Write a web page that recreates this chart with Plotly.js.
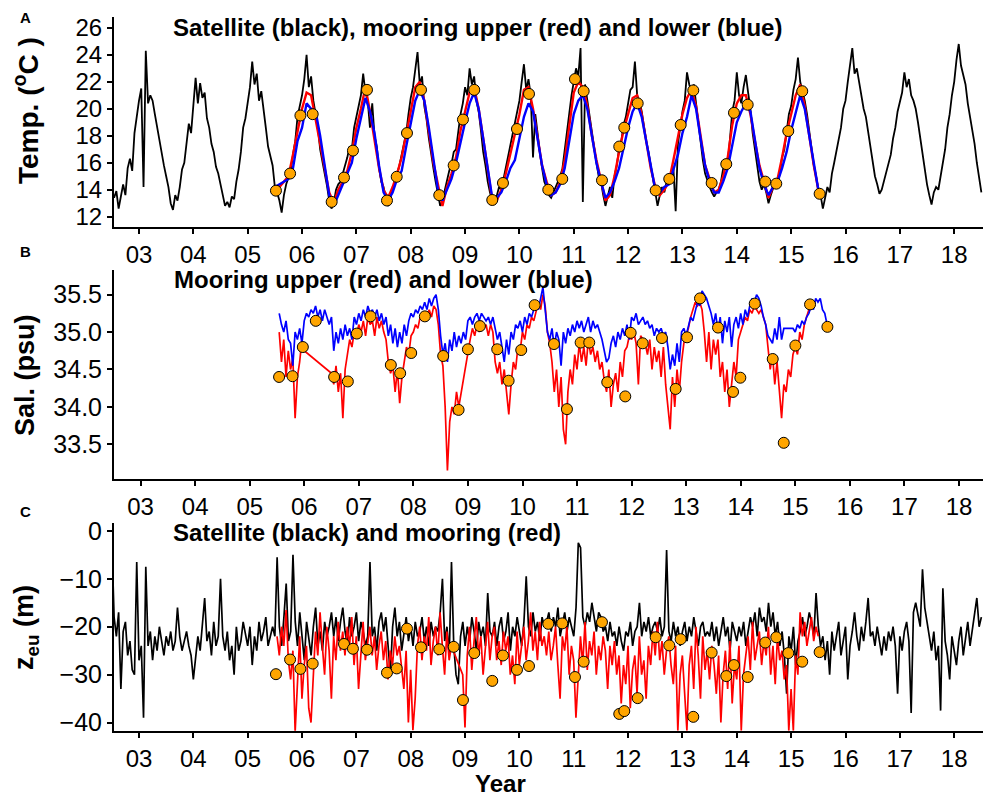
<!DOCTYPE html>
<html>
<head>
<meta charset="utf-8">
<script src="https://cdn.plot.ly/plotly-3.0.1.min.js"></script>
<style>html,body{margin:0;padding:0;background:#fff;}#chart{width:983px;height:798px;}</style>
</head>
<body>
<div id="chart"></div>
<script>
// ---------- tick labels ----------
const tickYears = [2003,2004,2005,2006,2007,2008,2009,2010,2011,2012,2013,2014,2015,2016,2017,2018];
const tickLabels = ['03','04','05','06','07','08','09','10','11','12','13','14','15','16','17','18'];

// ---------- Panel A: temperature ----------
const satTempStart = 2002.5, satTempStep = 1/24;
const satTemp = [
14.0,13.4,13.9,12.6,13.5,14.4,13.6,15.6,16.3,15.4,18.2,19.6,20.6,21.5,14.2,24.3,20.4,21.0,20.6,19.6,18.6,17.6,16.8,15.8,
15.0,14.2,13.0,12.5,13.6,13.2,14.2,15.5,16.0,17.4,18.9,18.2,20.6,22.3,20.4,21.9,20.8,21.2,19.3,18.6,17.4,16.8,15.7,15.2,
14.4,13.6,12.8,13.1,12.7,13.5,13.3,14.6,15.5,16.8,18.6,19.3,20.4,21.6,23.5,21.8,22.6,20.6,21.3,19.7,18.6,17.2,16.6,15.8,
14.2,13.8,13.2,12.3,13.6,14.4,14.9,15.4,16.6,17.6,19.4,20.2,21.0,22.2,24.0,21.6,22.4,20.6,19.4,18.6,17.0,16.2,15.2,14.3,
13.2,12.6,13.0,14.0,14.4,14.6,15.2,15.6,16.4,17.2,17.0,18.6,19.4,20.4,21.0,22.6,21.2,20.6,18.6,20.4,18.0,17.2,15.6,14.6,
14.2,13.3,12.8,13.4,14.0,14.6,15.2,15.8,16.6,17.4,18.2,19.6,20.8,21.6,23.0,24.2,21.8,22.4,20.2,19.2,17.8,16.6,15.6,14.6,
13.8,12.8,13.2,14.0,14.6,15.4,15.9,16.8,17.0,18.4,19.6,20.4,21.6,21.0,23.0,21.8,22.4,20.6,19.8,18.4,16.8,15.8,14.6,13.8,
13.2,12.9,13.6,14.2,14.0,14.8,15.6,16.4,17.2,18.0,18.8,19.6,20.6,22.0,23.3,21.4,22.2,21.0,16.4,19.6,18.0,16.8,15.6,14.6,
14.2,13.6,13.4,13.8,14.2,14.6,15.0,15.6,17.0,18.4,19.8,21.0,22.0,23.0,22.4,24.5,13.1,21.8,20.6,19.4,18.2,17.2,16.0,15.0,
14.6,13.6,12.8,13.5,14.2,13.4,15.0,15.8,17.0,17.6,18.8,19.4,20.6,21.4,21.6,23.5,21.0,20.6,19.8,18.6,17.6,16.8,15.8,14.8,
14.0,12.8,13.6,14.2,13.8,14.6,14.8,15.2,15.6,12.4,17.4,18.6,19.8,20.6,22.7,21.8,21.2,21.8,20.4,19.0,17.4,16.2,15.2,14.6,
14.2,13.8,13.5,13.8,14.0,14.6,15.6,16.2,16.0,17.8,19.8,20.6,22.7,21.0,20.4,21.6,22.5,21.2,20.0,18.2,17.0,15.8,14.6,14.0,
14.4,13.8,13.0,13.6,14.2,14.6,14.2,15.4,16.4,17.0,18.4,19.6,20.2,21.4,22.2,23.8,22.0,21.4,20.6,19.6,18.4,17.0,15.8,15.0,
14.0,13.6,12.6,13.4,14.2,13.8,15.2,16.0,16.8,17.8,18.6,20.0,20.6,22.0,23.2,24.5,22.6,23.0,22.0,21.0,20.0,19.4,18.2,17.0,
16.0,15.0,14.4,13.7,14.0,14.6,15.4,15.8,16.6,17.8,18.6,19.8,20.6,21.2,22.7,21.6,22.2,21.0,20.6,20.0,19.0,17.8,16.6,15.4,
14.4,13.6,12.9,13.8,14.2,14.0,15.0,15.8,17.0,18.6,19.6,21.0,22.0,23.6,24.8,23.2,22.6,21.8,20.4,19.4,18.4,17.4,16.0,15.0,
13.8];

const moorTempStart = 2005.5, moorTempStep = 1/12;
const upperTemp = [
14.0,14.2,14.6,15.0,16.6,18.4,20.0,21.2,21.0,19.2,17.4,15.6,
13.8,13.0,14.0,14.6,15.4,16.8,18.6,20.0,21.6,19.8,17.6,15.6,
14.0,13.4,14.2,15.2,16.4,18.0,19.8,21.6,22.0,20.6,18.4,16.0,
14.4,12.8,14.2,15.2,16.4,18.4,19.8,21.2,21.6,20.0,17.8,15.6,
13.2,13.2,14.0,15.2,16.6,18.0,19.6,21.4,21.6,20.0,17.8,15.8,
14.6,13.6,13.8,14.6,16.2,18.6,21.2,22.0,21.6,20.2,18.0,16.2,
14.8,13.2,13.6,15.0,16.8,18.4,19.6,20.8,21.0,19.6,17.6,15.6,
14.2,13.6,14.0,14.6,16.2,17.8,19.6,20.8,21.4,20.2,17.8,15.8,
14.8,13.8,14.0,15.0,16.4,18.8,20.4,21.0,21.0,19.6,17.6,15.8,
14.6,13.4,14.2,14.8,16.4,18.2,19.6,21.0,21.8,20.2,18.0,15.8,
14.0,13.4];
const lowerTemp = [
14.2,14.4,14.6,14.8,15.6,17.6,18.6,20.4,20.0,19.8,18.0,15.8,
13.6,12.8,13.6,14.4,15.2,16.0,17.8,19.4,20.8,19.8,18.2,15.8,
13.8,13.2,13.8,14.8,15.4,17.2,19.0,20.6,21.4,20.6,18.6,16.2,
14.0,13.2,14.0,14.8,16.0,17.6,19.0,20.4,21.2,20.0,17.8,15.4,
13.4,13.4,13.8,14.6,15.6,16.2,17.8,19.4,20.4,19.8,17.8,15.8,
14.4,13.6,13.8,14.4,15.6,17.6,19.6,20.6,21.0,20.0,18.0,16.0,
14.6,13.4,13.8,14.6,15.6,17.2,18.6,19.8,20.4,19.4,17.6,15.6,
14.0,13.8,14.2,14.4,15.6,16.6,18.2,19.4,21.0,20.0,17.8,15.8,
14.6,13.8,13.8,14.6,15.6,17.2,19.0,19.8,20.4,19.8,17.6,15.6,
14.4,13.6,14.2,14.6,15.6,16.8,18.4,19.8,21.0,20.0,18.0,15.8,
14.0,13.6];

const cruiseTempYear = [2005.52,2005.78,2005.97,2006.196,2006.545,2006.772,2006.937,2007.195,2007.563,2007.742,2007.931,2008.189,2008.525,2008.79,2008.961,2009.169,2009.5,2009.697,2009.955,2010.176,2010.531,2010.788,2011.022,2011.182,2011.519,2011.837,2011.929,2012.176,2012.507,2012.757,2012.967,2013.199,2013.537,2013.806,2013.948,2014.2,2014.524,2014.726,2014.947,2015.204,2015.524];
const cruiseTemp = [13.93,15.2,19.5,19.6,13.1,14.9,16.9,21.4,13.2,14.96,18.2,21.4,13.6,15.8,19.2,21.4,13.24,14.5,18.5,21.1,14.0,14.8,22.2,21.3,14.7,17.2,18.6,20.4,13.95,14.8,18.8,21.36,14.5,15.9,19.7,20.3,14.6,14.45,18.35,21.3,13.7];

// ---------- Panel B: salinity ----------
const salStart = 2005.54, salStep = 1/24;
const upperSal = [
35.0,34.6,34.9,34.4,34.75,34.5,34.65,33.85,34.4,34.6,34.9,34.75,null,null,null,null,null,null,null,null,null,null,null,34.45,
34.3,34.55,34.2,34.45,33.85,34.5,34.7,34.9,34.8,35.0,34.95,35.1,35.0,35.15,34.95,35.2,35.1,35.15,34.95,35.2,35.05,35.15,35.0,34.9,
34.6,34.45,34.55,34.2,34.5,34.05,34.4,34.6,34.8,34.7,34.95,35.0,35.1,35.05,35.2,35.15,35.25,35.2,35.3,35.2,35.35,35.3,35.1,34.7,
34.55,34.0,33.15,33.8,34.0,33.9,34.2,34.0,null,null,null,34.75,34.9,35.05,34.95,35.1,35.0,35.15,35.05,35.1,34.95,35.1,35.0,34.6,
34.45,34.6,34.3,34.5,34.2,33.9,34.3,34.6,34.5,34.8,34.75,35.0,34.9,35.1,35.05,35.2,35.15,35.3,35.4,35.3,35.5,35.35,35.0,34.85,
34.6,34.2,34.5,34.0,34.4,33.7,33.5,34.2,34.5,34.3,34.7,34.5,34.85,34.6,34.8,34.55,34.9,34.7,34.8,34.6,34.75,34.5,34.6,34.35,
34.2,34.5,34.0,34.3,34.45,34.2,34.6,34.4,34.75,34.8,34.95,34.9,35.0,34.85,34.3,34.95,34.9,34.85,34.7,34.9,34.5,34.8,34.6,34.75,
34.4,34.8,34.3,34.0,33.7,34.4,34.0,34.5,34.2,34.6,34.85,34.95,35.05,35.2,35.3,35.4,35.35,35.4,35.3,35.0,34.6,35.0,34.5,34.9,
34.7,34.9,34.4,34.6,34.2,34.5,34.0,34.3,34.6,34.4,34.9,35.0,35.1,35.2,35.15,35.3,35.25,35.35,35.3,35.25,35.3,35.2,35.1,34.8,
34.5,34.7,34.3,34.6,34.2,33.85,34.3,34.2,34.5,34.4,34.7,34.8,34.7,35.0,34.9,35.1,35.2,35.3];
const lowerSal = [
35.25,35.1,35.0,35.15,34.9,34.85,34.55,35.0,34.9,35.05,34.85,35.15,35.25,35.2,35.3,35.25,35.35,35.2,35.3,35.15,35.3,35.2,35.1,35.2,
34.75,35.0,34.85,35.05,34.9,35.1,34.95,35.05,34.9,35.2,35.1,35.25,35.15,35.3,35.2,35.35,35.25,35.3,35.2,35.3,35.15,35.25,35.1,35.2,
34.95,35.1,34.85,35.05,34.8,35.0,34.85,35.1,34.95,35.15,35.25,35.2,35.3,35.25,35.35,35.3,35.4,35.3,35.45,35.35,35.45,35.5,35.3,34.95,
34.7,34.85,34.6,34.9,34.75,35.0,34.8,34.95,34.85,35.0,34.9,35.15,35.2,35.1,35.2,35.25,35.15,35.25,35.2,35.15,35.2,35.1,35.2,35.05,
34.9,35.0,34.8,34.6,34.9,34.7,35.0,34.9,35.1,35.05,35.15,35.0,35.2,35.1,35.25,35.2,35.3,35.35,35.3,35.45,35.6,35.3,35.0,34.9,
35.05,34.8,35.0,34.9,34.55,35.0,34.85,35.05,34.95,35.1,35.0,35.15,35.05,35.15,35.0,35.1,35.2,35.0,35.15,35.05,35.1,35.0,34.9,34.75,
34.6,34.65,34.85,34.95,34.8,35.0,34.9,35.05,34.95,35.1,34.9,35.2,35.15,35.25,35.1,35.15,35.2,35.1,35.15,35.05,35.1,34.95,35.05,35.0,
35.05,34.95,35.0,34.8,34.5,34.7,34.55,34.85,34.6,35.0,35.05,34.95,35.1,35.2,35.15,35.3,35.4,35.35,35.55,35.5,35.45,35.35,35.25,35.1,
35.25,35.0,35.2,34.85,35.15,35.0,35.2,34.8,35.1,35.2,35.05,35.25,35.1,35.3,35.2,35.35,35.45,35.4,35.5,35.45,35.35,35.2,35.1,34.95,
34.9,34.85,35.05,34.9,35.2,34.9,35.05,null,null,null,35.05,35.0,35.1,35.05,35.15,35.1,35.2,35.25,35.35,35.3,35.45,35.4,35.45,35.3,
35.25,35.1];

const cruiseSalYear = [2005.538,2005.784,2005.973,2006.211,2006.547,2006.798,2006.963,2007.214,2007.586,2007.757,2007.959,2008.21,2008.546,2008.828,2008.999,2009.219,2009.536,2009.745,2009.976,2010.222,2010.576,2010.814,2011.065,2011.223,2011.553,2011.883,2011.982,2012.202,2012.556,2012.807,2013.015,2013.253,2013.583,2013.858,2013.992,2014.256,2014.586,2014.788,2015.001,2015.27,2015.588];
const cruiseSal = [34.40,34.41,34.80,35.15,34.40,34.34,34.98,35.21,34.56,34.45,34.72,35.21,34.68,33.96,34.77,35.08,34.77,34.35,34.76,35.36,34.84,33.97,34.86,34.86,34.33,34.14,34.99,34.85,34.92,34.24,34.93,35.45,35.06,34.20,34.39,35.38,34.64,33.52,34.82,35.37,35.07];

// ---------- Panel C: euphotic depth ----------
const satZeuStart = 2002.5, satZeuStep = 1/24;
const satZeu = [
-2,-18,-22,-17,-33,-21,-19,-26,-23,-29,-30,-6.5,-27,-24,-39,-7.5,-24,-21,-27,-22,-25,-20,-23,-26,
-22,-24,-21,-25,-23,-16,-22,-25,-23,-21,-24,-26,-31,-27,-22,-25,-20,-14,-23,-21,-26,-19,-24,-22,
-10,-22,-25,-21,-27,-24,-30,-20,-25,-23,-19,-22,-24,-20,-28,-22,-25,-19,-23,-21,-18,-24,-22,-20,
-22,-5.5,-20,-24,-18,-11,-23,-21,-5,-19,-24,-17,-22,-27,-19,-23,-26,-20,-16,-24,-21,-25,-19,-22,
-20,-17,-22,-18,-23,-19,-16,-21,-24,-18,-22,-20,-17,-23,-19,-21,-24,-22,-6.5,-22,-20,-25,-19,-17,
-21,-18,-24,-30,-20,-16,-22,-19,-25,-21,-18,-23,-20,-24,-19,-22,-21,-18,-23,-20,-24,-19,-22,-20,
-21,-17,-10,-23,-20,-26,-6.5,-24,-30,-32,-22,-19,-24,-20,-23,-18,-21,-25,-19,-22,-20,-24,-13,-21,
-22,-19,-24,-20,-18,-23,-21,-17,-25,-20,-22,-18,-21,-24,-19,-9.5,-20,-22,-17,-21,-19,-23,-18,-20,
-19,-17,-21,-18,-20,-16,-22,-19,-17,-21,-18,-20,-22,-16,-2.5,-3.5,-18,-20,-17,-19,-15,-18,-21,-17,
-18,-21,-20,-23,-19,-22,-21,-24,-20,-23,-25,-21,-22,-19,-24,-21,-20,-15,-22,-19,-21,-18,-22,-20,
-19,-21,-18,-22,-20,-4,-21,-23,-19,-22,-20,-24,-21,-19,-23,-20,-22,-18,-21,-24,-20,-19,-22,-21,
-22,-19,-23,-20,-24,-21,-18,-22,-20,-25,-19,-21,-23,-20,-22,-19,-24,-21,-18,-20,-17,-22,-16,-19,
-18,-21,-15,-20,-17,-22,-19,-24,-21,-26,-34,-22,-25,-20,-28,-23,-21,-18,-22,-20,-17,-19,-22,-13,
-20,-24,-22,-27,-23,-30,-21,-25,-22,-19,-26,-23,-20,-31,-24,-21,-17,-22,-25,-20,-23,-19,-14,-22,
-21,-24,-20,-23,-26,-22,-25,-21,-23,-20,-24,-34,-22,-25,-21,-19,-23,-38,-17,-15,-18,-20,-8,-16,
-19,-22,-25,-21,-27,-24,-37.5,-12,-23,-26,-31,-22,-25,-28,-23,-20,-26,-22,-19,-24,-21,-17,-14,-20,
-18];

const moorZeuStart = 2005.54, moorZeuStep = 1/24;
const moorZeu = [
-22,-26,-20,-24,-16.5,-27,-31,-25,-42,-33,-22,-35,-28,-24,-37,-40,-29,-21,-26,-17,-24,-30,-20,-25,
-35,-22,-27,-19,-25,-21,-26,-20,-24,-18,-28,-22,-33,-25,-19,-27,-23,-20,-26,-22,-29,-24,-21,-27,
-23,-31,-25,-28,-22,-26,-24,-28,-33,-25,-40,-29,-41.6,-35,-24,-20,-27,-22,-25,-18,-28,-23,-20,-26,
-17,-24,-30,-21,-27,-24,null,null,null,null,-30,-41,-26,-20,-29,-23,-18,-26,-22,-30,-24,-19,-27,-22,
-20,-27,-23,-28,-21,-25,-22,-30,-26,-32,-21,-28,-24,-20,-27,-23,-17,-25,-21,-27,-19,-24,-22,-26,
-21,-27,-24,-20,-28,-35,-22,-25,-20,-30,-24,-27,-39,-30,-22,-28,-19,-29,-23,-26,-21,-30,-24,-27,
-22,-25,-33,-24,-28,-23,-30,-26,-36,-28,-32,-24,-37,-29,-26,-34,-22,-30,-27,-35,-24,-28,-21,-26,
-19,-27,-23,-30,-25,-22,-28,-32,-24,-41.7,-30,-26,-35,-41.7,-28,-24,-33,-20,-26,-35,-22,-29,-25,-31,
-24,-28,-34,-26,-40,-30,-25,-33,-23,-36,-28,-31,-24,-41.7,-30,-26,-22,-29,-19,-27,-24,-21,-28,-23,
-26,-20,-30,-24,-32,-22,-27,-25,-31,-28,-41.7,-33,-41.7,-26,-30,-17,-22,-19,-24,-21,-18,-23,-20,-22];

const cruiseZeuYear = [2005.52,2005.78,2005.97,2006.196,2006.772,2006.937,2007.195,2007.563,2007.742,2007.931,2008.189,2008.525,2008.79,2008.961,2009.169,2009.5,2009.697,2009.955,2010.176,2010.531,2010.788,2011.022,2011.182,2011.519,2011.837,2011.929,2012.176,2012.507,2012.757,2012.967,2013.199,2013.537,2013.806,2013.948,2014.2,2014.524,2014.726,2014.947,2015.204,2015.524];
const cruiseZeu = [-29.9,-26.85,-28.8,-27.7,-23.6,-24.6,-24.8,-29.6,-28.7,-20.4,-24.3,-24.7,-24.2,-35.3,-25.5,-31.3,-26.0,-29.0,-28.2,-19.4,-19.3,-30.5,-27.3,-19.05,-38.2,-37.6,-34.9,-22.2,-23.9,-22.6,-38.8,-25.4,-30.3,-28.0,-30.5,-23.3,-22.2,-25.5,-27.3,-25.3];

// ---------- build ----------
const times = (t0, step, n) => Array.from({length: n}, (_, i) => t0 + i * step);
const FONT = 'Arial, "Liberation Sans", Helvetica, sans-serif';

function lineTrace(t0, step, ys, color, width, xa, ya) {
  return {x: times(t0, step, ys.length), y: ys, type: 'scatter', mode: 'lines',
          line: {color: color, width: width}, connectgaps: true, xaxis: xa, yaxis: ya, hoverinfo: 'skip'};
}
function dotTrace(xs, ys, xa, ya) {
  return {x: xs, y: ys, type: 'scatter', mode: 'markers',
          marker: {color: '#FFA500', size: 11, line: {color: '#000', width: 1}},
          xaxis: xa, yaxis: ya, hoverinfo: 'skip', cliponaxis: false};
}

const data = [
  lineTrace(satTempStart, satTempStep, satTemp, '#000000', 1.8, 'x', 'y'),
  lineTrace(moorTempStart, moorTempStep, upperTemp, '#FF0000', 2.4, 'x', 'y'),
  lineTrace(moorTempStart, moorTempStep, lowerTemp, '#0000FF', 2.4, 'x', 'y'),
  dotTrace(cruiseTempYear, cruiseTemp, 'x', 'y'),
  lineTrace(salStart, salStep, upperSal, '#FF0000', 1.7, 'x2', 'y2'),
  lineTrace(salStart, salStep, lowerSal, '#0000FF', 1.7, 'x2', 'y2'),
  dotTrace(cruiseSalYear, cruiseSal, 'x2', 'y2'),
  lineTrace(satZeuStart, satZeuStep, satZeu, '#000000', 1.7, 'x3', 'y3'),
  lineTrace(moorZeuStart, moorZeuStep, moorZeu, '#FF0000', 1.7, 'x3', 'y3'),
  dotTrace(cruiseZeuYear, cruiseZeu, 'x3', 'y3')
];

const axisBase = {showline: true, linecolor: '#000', linewidth: 2, ticks: 'outside', ticklen: 5,
  tickwidth: 2, tickcolor: '#000', showgrid: false, zeroline: false, fixedrange: true};
function xAxis(anchor, range) {
  return Object.assign({}, axisBase, {anchor: anchor, domain: [0, 1], range: range,
    tickmode: 'array', tickvals: tickYears, ticktext: tickLabels,
    tickfont: {family: FONT, size: 24, color: '#000'}});
}
function yAxis(anchor, domain, range, vals, size, fmt) {
  const a = Object.assign({}, axisBase, {anchor: anchor, domain: domain, range: range,
    tickmode: 'array', tickvals: vals, tickfont: {family: FONT, size: size, color: '#000'}});
  if (fmt) a.tickformat = fmt;
  return a;
}

// pixel helpers for annotation placement (plot area: x 114..983 of 983 px; paper height 798)
const px = v => (v - 114) / 869;
const py = v => (798 - v) / 798;

function ann(text, x, y, size, opts) {
  return Object.assign({text: text, x: px(x), y: py(y), xref: 'paper', yref: 'paper',
    showarrow: false, font: {family: FONT, size: size, color: '#000'},
    xanchor: 'center', yanchor: 'middle'}, opts || {});
}

const layout = {
  width: 983, height: 798,
  margin: {l: 114, r: 0, t: 0, b: 0},
  paper_bgcolor: '#fff', plot_bgcolor: '#fff',
  showlegend: false, hovermode: false,
  xaxis: xAxis('y', [2002.54, 2018.53]),
  xaxis2: xAxis('y2', [2002.512, 2018.44]),
  xaxis3: xAxis('y3', [2002.54, 2018.53]),
  yaxis: yAxis('x', [0.7159, 0.9787], [11.26, 26.8], [12,14,16,18,20,22,24,26], 24),
  yaxis2: yAxis('x2', [0.4001, 0.6617], [33.04, 35.83], [33.5,34,34.5,35,35.5], 25, '.1f'),
  yaxis3: yAxis('x3', [0.0843, 0.345], [-41.7, 1.7], [0,-10,-20,-30,-40], 25),
  annotations: [
    ann('<b>A</b>', 25, 17.5, 15),
    ann('<b>B</b>', 25, 251, 15),
    ann('<b>C</b>', 25, 511, 15),
    ann('<b>Satellite (black), mooring upper (red) and lower (blue)</b>', 171, 27, 24, {xanchor: 'left'}),
    ann('<b>Mooring upper (red) and lower (blue)</b>', 172, 279, 24, {xanchor: 'left'}),
    ann('<b>Satellite (black) and mooring (red)</b>', 171, 532, 24, {xanchor: 'left'}),
    ann('<b>Temp. (<sup>o</sup>C )</b>', 26, 111, 28, {textangle: -90}),
    ann('<b>Sal. (psu)</b>', 25, 375, 27, {textangle: -90}),
    ann('<b>z<sub>eu</sub> (m)</b>', 26, 628, 27, {textangle: -90}),
    ann('<b>Year</b>', 500, 798, 24, {yanchor: 'bottom', borderpad: 0})
  ]
};

Plotly.newPlot('chart', data, layout, {displayModeBar: false, staticPlot: true});
</script>
</body>
</html>
